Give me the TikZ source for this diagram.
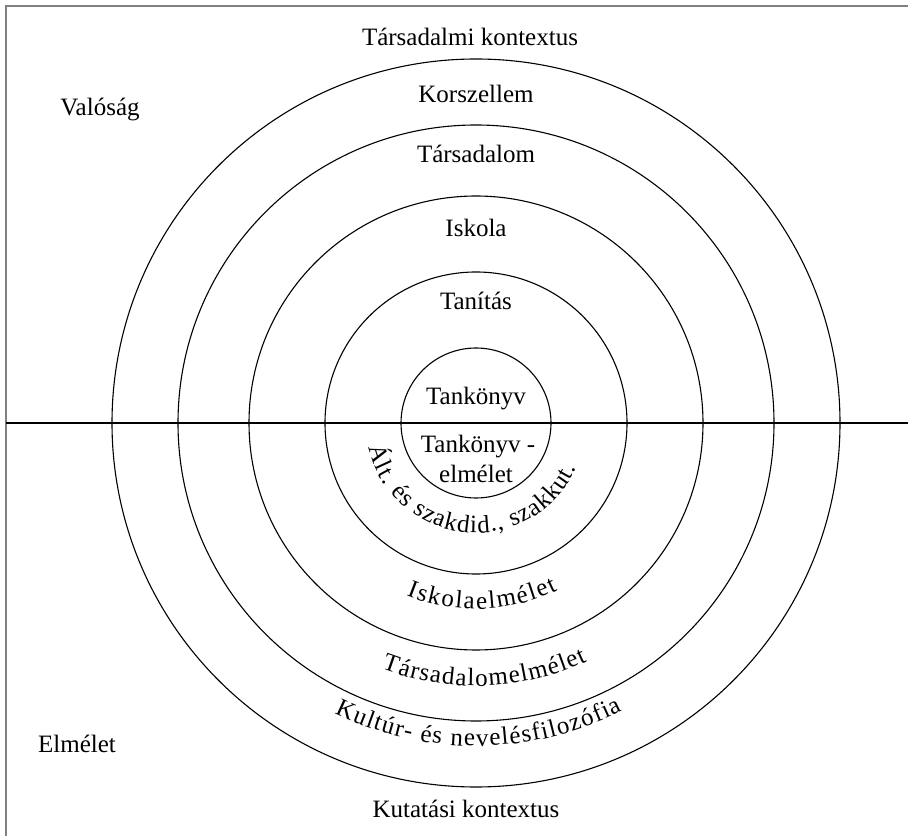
\documentclass[tikz,border=0pt]{standalone}
\usepackage{fontspec}
\setmainfont{Liberation Serif}
\usetikzlibrary{decorations.text}
\newcommand\dfont{\fontsize{25}{30}\selectfont}
\begin{document}
\begin{tikzpicture}[x=1pt,y=1pt,
  lbl/.style={font=\dfont, inner sep=0pt, anchor=base},
  ring/.style={draw=black, line width=1.1pt},
  frameline/.style={draw=black!50, line width=2pt},
  axisline/.style={draw=black, line width=2pt},
  arctext/.style={decorate, decoration={text along path, text align={fit to path}, text={#1}}}]
\useasboundingbox (0,0) rectangle (908,836);
\coordinate (C) at (476,413);
% frame
\coordinate (f1) at (6,0);
\coordinate (f2) at (6,830);
\coordinate (f3) at (908,830);
\draw[frameline] (f1) -- (f2) -- (f3);
% circles
\foreach \r in {75,151,227,298,364} \draw[ring] (C) circle[radius=\r];
% horizontal axis
\coordinate (hl) at (6,413);
\coordinate (hr) at (908,413);
\draw[axisline] (hl) -- (hr);
% straight labels
\node[lbl] (tk) at (470,790) {Társadalmi kontextus};
\node[lbl] (val) at (100,720) {Valóság};
\node[lbl] (kor) at (476,733) {Korszellem};
\node[lbl] (tars) at (476,673) {Társadalom};
\node[lbl] (isk) at (476,599) {Iskola};
\node[lbl] (tan) at (476,526) {Tanítás};
\node[lbl] (tkv) at (476,431) {Tankönyv};
\node[lbl] (tkve1) at (478,383) {Tankönyv -};
\node[lbl] (tkve2) at (476,353) {elmélet};
\node[lbl] (elm) at (77,84) {Elmélet};
\node[lbl] (kk) at (466,19) {Kutatási kontextus};
% curved labels
\path[arctext={|\dfont|Ált. és szakdid., szakkut.}] (C) ++(193:110) arc[start angle=193, end angle=336, radius=110];
\path[arctext={|\dfont|Iskolaelmélet}] (C) ++(248:186) arc[start angle=248, end angle=296, radius=186];
\path[arctext={|\dfont|Társadalomelmélet}] (C) ++(249:263) arc[start angle=249, end angle=295, radius=263];
\path[arctext={|\dfont|Kultúr- és nevelésfilozófia}] (C) ++(244:323) arc[start angle=244, end angle=297, radius=323];
\end{tikzpicture}
\end{document}
